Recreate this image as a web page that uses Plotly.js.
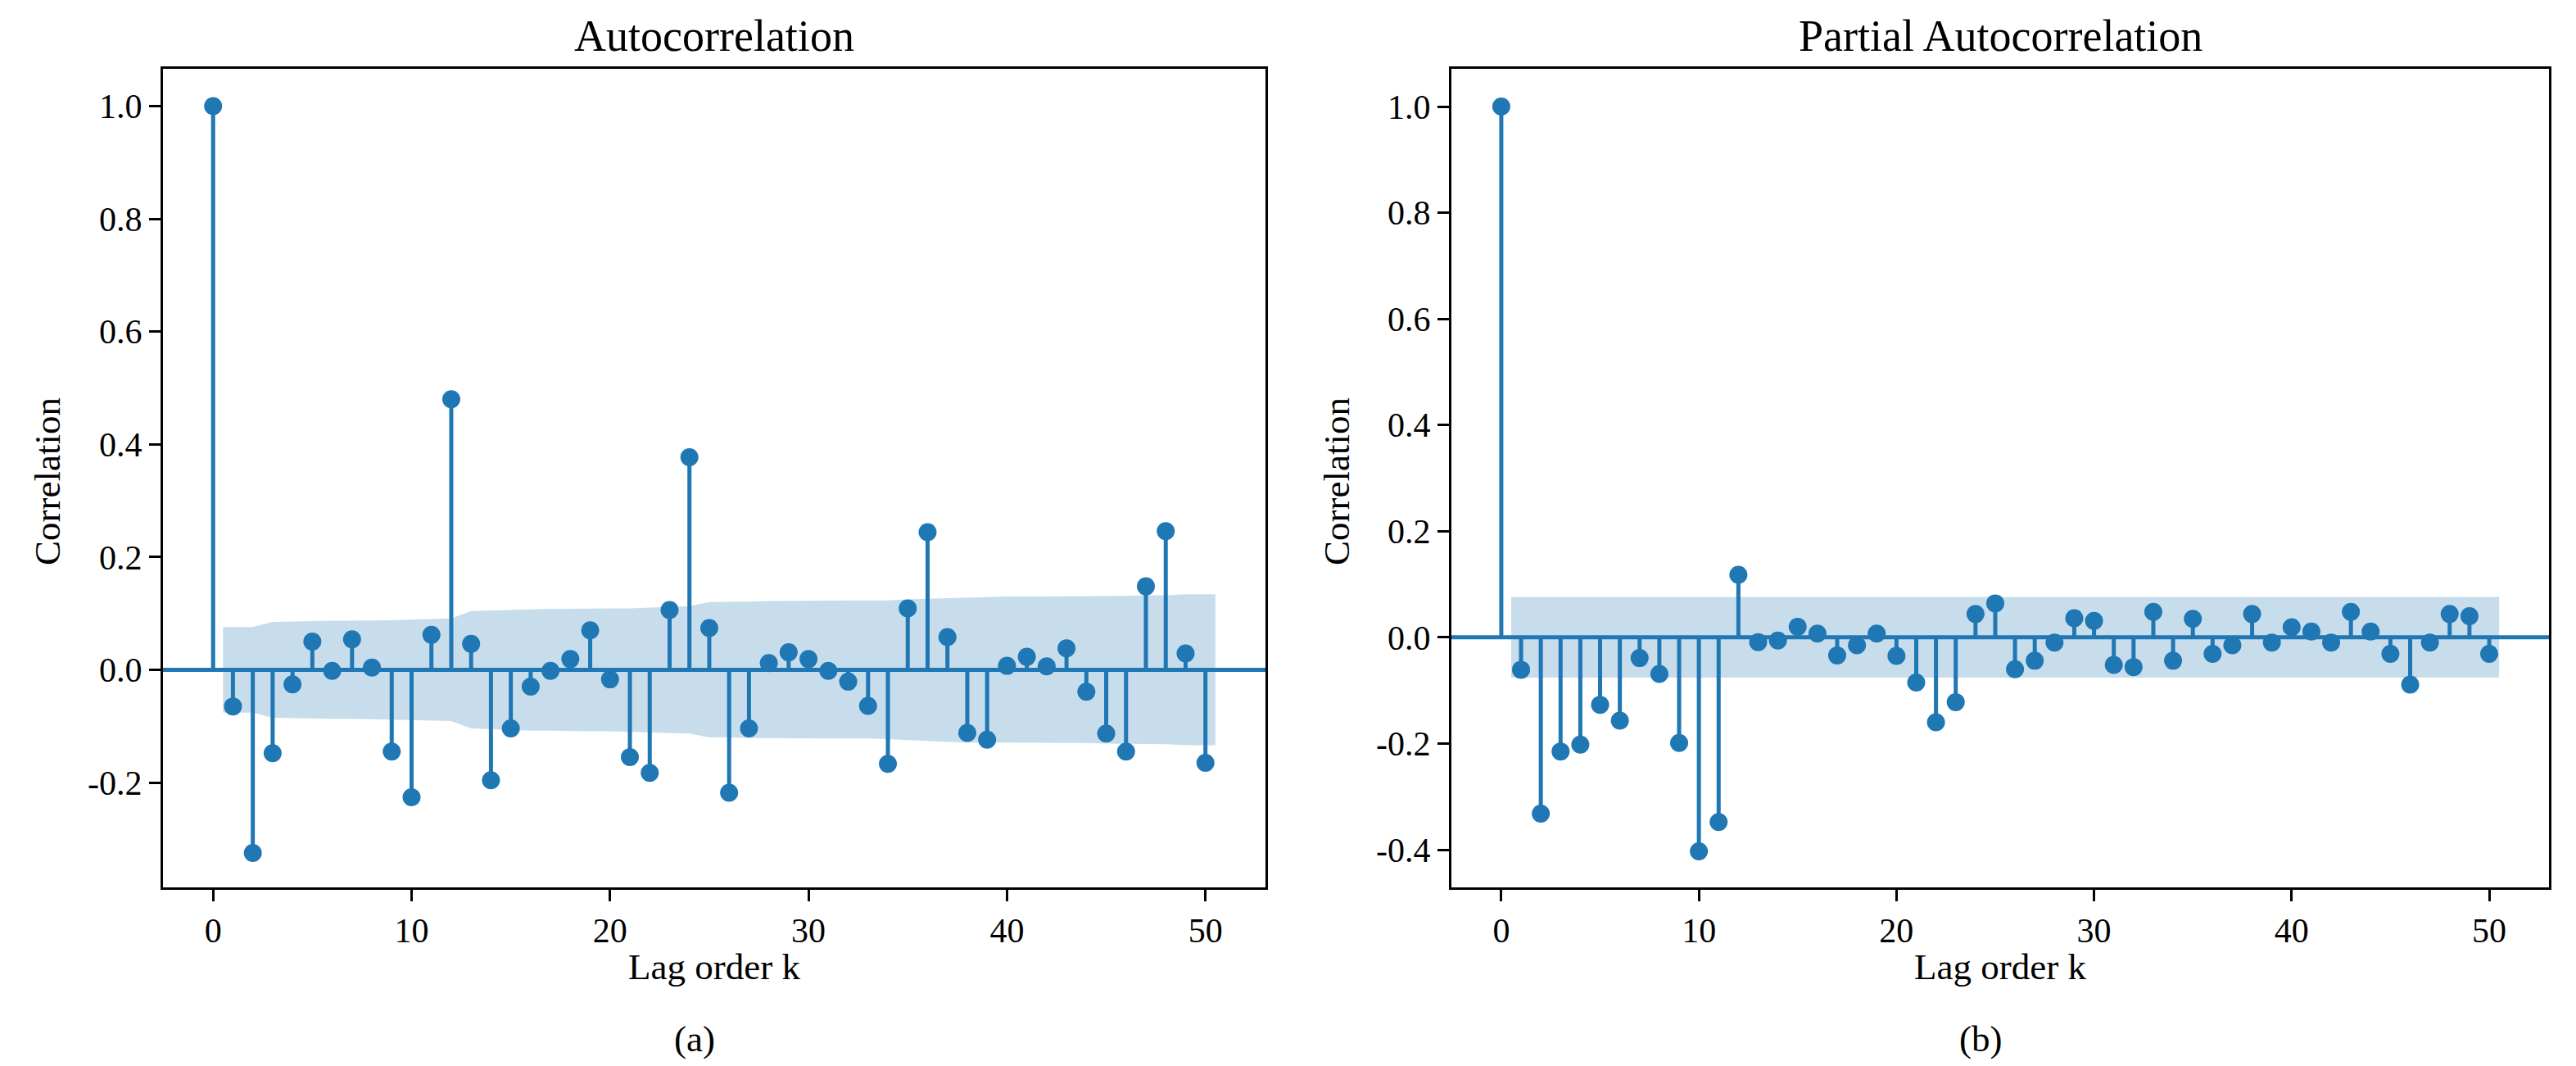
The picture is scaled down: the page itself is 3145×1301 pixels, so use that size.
<!DOCTYPE html>
<html>
<head>
<meta charset="utf-8">
<script src="https://cdn.plot.ly/plotly-3.0.1.min.js"></script>
<style>html,body{margin:0;padding:0;background:#fff;}#chart{width:3145px;height:1301px;}</style>
</head>
<body>
<div id="chart"></div>
<script>
// ---- data ----
const lags = [0,1,2,3,4,5,6,7,8,9,10,11,12,13,14,15,16,17,18,19,20,21,22,23,24,25,26,27,28,29,30,31,32,33,34,35,36,37,38,39,40,41,42,43,44,45,46,47,48,49,50];
const acfValues = [1.0,-0.065,-0.325,-0.148,-0.026,0.050,-0.002,0.054,0.004,-0.145,-0.226,0.062,0.480,0.046,-0.196,-0.104,-0.030,-0.002,0.019,0.070,-0.017,-0.155,-0.183,0.106,0.377,0.074,-0.218,-0.104,0.012,0.031,0.019,-0.002,-0.021,-0.064,-0.167,0.109,0.244,0.058,-0.112,-0.124,0.007,0.023,0.006,0.038,-0.039,-0.113,-0.145,0.148,0.246,0.029,-0.165];
const pacfValues = [1.0,-0.061,-0.332,-0.215,-0.202,-0.127,-0.157,-0.039,-0.069,-0.199,-0.403,-0.348,0.118,-0.009,-0.006,0.020,0.007,-0.034,-0.015,0.007,-0.035,-0.085,-0.160,-0.122,0.044,0.064,-0.060,-0.044,-0.010,0.036,0.031,-0.052,-0.056,0.048,-0.044,0.035,-0.031,-0.015,0.044,-0.010,0.019,0.011,-0.010,0.048,0.011,-0.031,-0.089,-0.010,0.044,0.040,-0.031];
// confidence band half-widths for lags 1..50
const acfBand = [0.076,0.076,0.085,0.086,0.086,0.087,0.087,0.087,0.088,0.089,0.090,0.091,0.104,0.105,0.107,0.108,0.108,0.108,0.109,0.109,0.109,0.110,0.112,0.113,0.120,0.120,0.121,0.122,0.122,0.122,0.122,0.122,0.122,0.123,0.125,0.126,0.128,0.129,0.129,0.130,0.130,0.130,0.130,0.130,0.131,0.131,0.132,0.132,0.134,0.134];
const pacfBand = [0.076,0.076,0.076,0.076,0.076,0.076,0.076,0.076,0.076,0.076,0.076,0.076,0.076,0.076,0.076,0.076,0.076,0.076,0.076,0.076,0.076,0.076,0.076,0.076,0.076,0.076,0.076,0.076,0.076,0.076,0.076,0.076,0.076,0.076,0.076,0.076,0.076,0.076,0.076,0.076,0.076,0.076,0.076,0.076,0.076,0.076,0.076,0.076,0.076,0.076];
const xTickVals = [0,10,20,30,40,50];
const xTickText = ['0','10','20','30','40','50'];
const acfTickVals = [-0.2,0,0.2,0.4,0.6,0.8,1.0];
const acfTickText = ['-0.2','0.0','0.2','0.4','0.6','0.8','1.0'];
const pacfTickVals = [-0.4,-0.2,0,0.2,0.4,0.6,0.8,1.0];
const pacfTickText = ['-0.4','-0.2','0.0','0.2','0.4','0.6','0.8','1.0'];
const titles = ['Autocorrelation','Partial Autocorrelation'];
const xLabel = 'Lag order k';
const yLabel = 'Correlation';
const captions = ['(a)','(b)'];

// ---- style ----
const BLUE = '#1f77b4';
const BAND = 'rgba(31,119,180,0.25)';
const FONT = '"Liberation Serif", "Times New Roman", Times, serif';

function stemTraces(vals, band, xa, ya) {
  const sx = [], sy = [];
  lags.forEach((l, i) => { sx.push(l, l, null); sy.push(0, vals[i], null); });
  // band polygon (lags 1..50, ends shifted by half a lag as statsmodels does)
  const bx = lags.slice(1).map((l, i, a) => i === 0 ? l - 0.5 : (i === a.length - 1 ? l + 0.5 : l));
  const px = bx.concat(bx.slice().reverse());
  const py = band.concat(band.slice().reverse().map(v => -v));
  return [
    {x: px, y: py, xaxis: xa, yaxis: ya, mode: 'lines', fill: 'toself', fillcolor: BAND,
     line: {width: 0, color: BAND}, hoverinfo: 'skip', showlegend: false, type: 'scatter'},
    {x: sx, y: sy, xaxis: xa, yaxis: ya, mode: 'lines', line: {color: BLUE, width: 5},
     hoverinfo: 'skip', showlegend: false, type: 'scatter'},
    {x: lags, y: vals, xaxis: xa, yaxis: ya, mode: 'markers', marker: {color: BLUE, size: 22},
     showlegend: false, type: 'scatter'}
  ];
}

const data = [].concat(
  stemTraces(acfValues, acfBand, 'x', 'y'),
  stemTraces(pacfValues, pacfBand, 'x2', 'y2')
);

const W = 3145, H = 1301;
const px2x = v => v / W, px2y = v => 1 - v / H;

function xAxis(dom, anchor) {
  return {domain: dom, anchor: anchor, range: [-2.525, 53.025], tickvals: xTickVals, ticktext: xTickText,
    showgrid: false, zeroline: false, showline: true, mirror: true, linecolor: '#000', linewidth: 3,
    ticks: 'outside', ticklen: 14, tickwidth: 3, tickcolor: '#000',
    tickfont: {family: FONT, size: 42, color: '#000'}};
}
function yAxis(dom, anchor, range, tv, tt) {
  return {domain: dom, anchor: anchor, range: range, tickvals: tv, ticktext: tt,
    showgrid: false, zeroline: false, showline: true, mirror: true, linecolor: '#000', linewidth: 3,
    ticks: 'outside', ticklen: 14, tickwidth: 3, tickcolor: '#000',
    tickfont: {family: FONT, size: 42, color: '#000'}};
}

const yDom = [px2y(1083), px2y(84)];
const layout = {
  width: W, height: H,
  margin: {l: 0, r: 0, t: 0, b: 0},
  paper_bgcolor: '#fff', plot_bgcolor: '#fff',
  showlegend: false,
  xaxis: xAxis([px2x(199), px2x(1545)], 'y'),
  yaxis: yAxis(yDom, 'x', [-0.386, 1.066], acfTickVals, acfTickText),
  xaxis2: xAxis([px2x(1772), px2x(3112)], 'y2'),
  yaxis2: yAxis(yDom, 'x2', [-0.471, 1.071], pacfTickVals, pacfTickText),
  shapes: [
    {type: 'line', xref: 'x domain', yref: 'y', x0: 0, x1: 1, y0: 0, y1: 0, line: {color: BLUE, width: 5}, layer: 'above'},
    {type: 'line', xref: 'x2 domain', yref: 'y2', x0: 0, x1: 1, y0: 0, y1: 0, line: {color: BLUE, width: 5}, layer: 'above'}
  ],
  annotations: [
    {text: titles[0], xref: 'paper', yref: 'paper', x: px2x(872), y: px2y(44), xanchor: 'center', yanchor: 'middle', showarrow: false, font: {family: FONT, size: 54, color: '#000'}},
    {text: titles[1], xref: 'paper', yref: 'paper', x: px2x(2442), y: px2y(44), xanchor: 'center', yanchor: 'middle', showarrow: false, font: {family: FONT, size: 54, color: '#000'}},
    {text: xLabel, xref: 'paper', yref: 'paper', x: px2x(872), y: px2y(1180), xanchor: 'center', yanchor: 'middle', showarrow: false, font: {family: FONT, size: 45, color: '#000'}},
    {text: xLabel, xref: 'paper', yref: 'paper', x: px2x(2442), y: px2y(1180), xanchor: 'center', yanchor: 'middle', showarrow: false, font: {family: FONT, size: 45, color: '#000'}},
    {text: yLabel, xref: 'paper', yref: 'paper', x: px2x(58), y: px2y(588), textangle: -90, xanchor: 'center', yanchor: 'middle', showarrow: false, font: {family: FONT, size: 45, color: '#000'}},
    {text: yLabel, xref: 'paper', yref: 'paper', x: px2x(1632), y: px2y(588), textangle: -90, xanchor: 'center', yanchor: 'middle', showarrow: false, font: {family: FONT, size: 45, color: '#000'}},
    {text: captions[0], xref: 'paper', yref: 'paper', x: px2x(848), y: px2y(1268), xanchor: 'center', yanchor: 'middle', showarrow: false, font: {family: FONT, size: 45, color: '#000'}},
    {text: captions[1], xref: 'paper', yref: 'paper', x: px2x(2418), y: px2y(1268), xanchor: 'center', yanchor: 'middle', showarrow: false, font: {family: FONT, size: 45, color: '#000'}}
  ]
};

Plotly.newPlot('chart', data, layout, {displayModeBar: false, staticPlot: true});
</script>
</body>
</html>
